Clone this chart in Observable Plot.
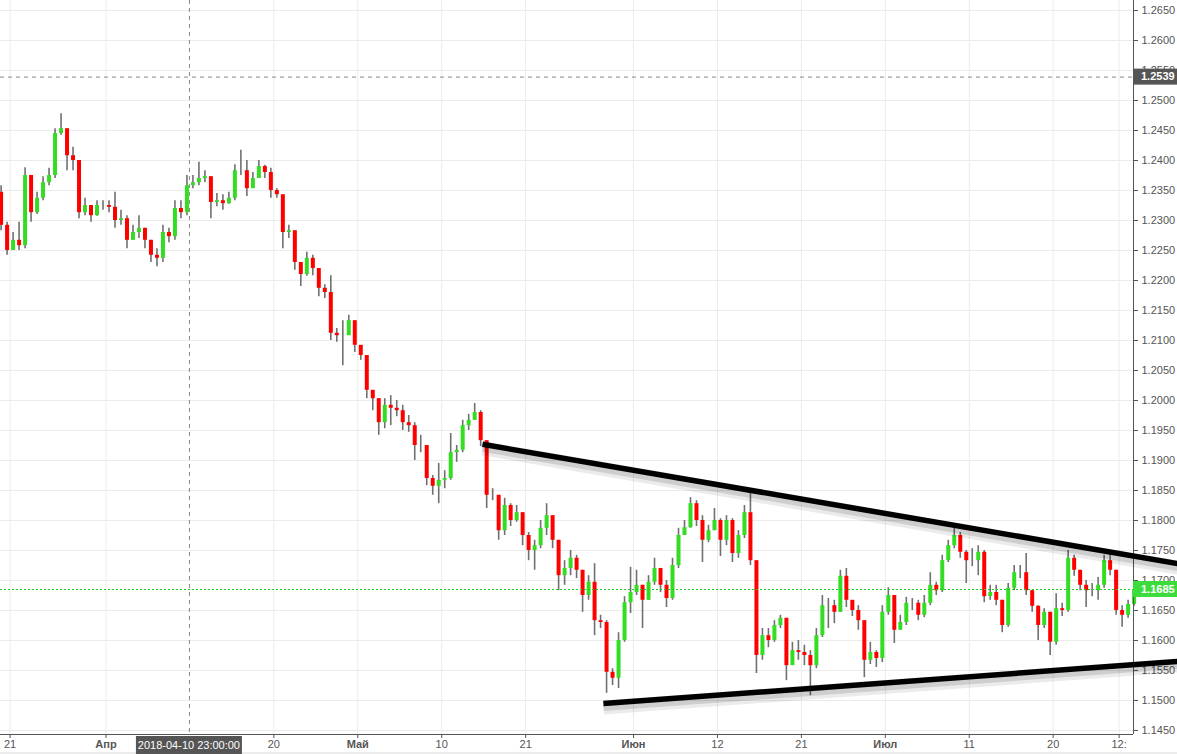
<!DOCTYPE html>
<html><head><meta charset="utf-8">
<script src="https://cdn.jsdelivr.net/npm/d3@7"></script>
<script src="https://cdn.jsdelivr.net/npm/@observablehq/plot@0.6"></script>
<style>
body{margin:0;background:#fff;}
#chart svg{display:block;}
</style>
</head><body><div id="chart"></div>
<script>
// Time axis: trading-day index (0 = 2018-04-02), one bar every 12 trading hours
const startDay = -8.75;
const barStep = 0.5;
const firstOpen = 1.2347;
const close = [1.2292,1.2250,1.2267,1.2258,1.2375,1.2313,1.2337,1.2363,1.2375,1.2445,
1.2453,1.2408,1.2400,1.2313,1.2325,1.2308,1.2325,1.2325,1.2322,1.2300,
1.2303,1.2267,1.2280,1.2287,1.2267,1.2242,1.2237,1.2280,1.2273,1.2320,
1.2313,1.2358,1.2363,1.2370,1.2373,1.2330,1.2333,1.2328,1.2337,1.2383,
1.2383,1.2353,1.2370,1.2390,1.2380,1.2350,1.2343,1.2280,1.2283,1.2230,
1.2210,1.2237,1.2220,1.2187,1.2180,1.2112,1.2108,1.2108,1.2133,1.2092,
1.2075,1.2017,1.2003,1.1963,1.1992,1.1987,1.1983,1.1963,1.1958,1.1925,
1.1925,1.1870,1.1857,1.1867,1.1870,1.1913,1.1917,1.1958,1.1967,1.1980,
1.1933,1.1842,1.1842,1.1783,1.1825,1.1800,1.1813,1.1775,1.1750,1.1758,
1.1787,1.1808,1.1767,1.1708,1.1720,1.1737,1.1717,1.1675,1.1697,1.1633,
1.1630,1.1547,1.1537,1.1600,1.1663,1.1680,1.1692,1.1667,1.1697,1.1720,
1.1692,1.1670,1.1725,1.1775,1.1788,1.1828,1.1800,1.1767,1.1783,1.1800,
1.1767,1.1800,1.1745,1.1775,1.1813,1.1733,1.1575,1.1608,1.1600,1.1625,
1.1637,1.1558,1.1583,1.1580,1.1575,1.1558,1.1608,1.1658,1.1658,1.1647,
1.1707,1.1667,1.1650,1.1633,1.1567,1.1580,1.1570,1.1647,1.1675,1.1617,
1.1630,1.1662,1.1662,1.1642,1.1662,1.1692,1.1683,1.1733,1.1758,1.1775,
1.1747,1.1733,1.1733,1.1747,1.1673,1.1680,1.1667,1.1625,1.1687,1.1713,
1.1713,1.1683,1.1657,1.1625,1.1647,1.1597,1.1653,1.1650,1.1737,1.1717,
1.1692,1.1683,1.1683,1.1692,1.1733,1.1717,1.1650,1.1642,1.1660,1.1685];
const high = [1.2358,1.2297,1.2280,1.2297,1.2388,1.2375,1.2347,1.2373,1.2387,1.2453,
1.2478,1.2453,1.2422,1.2400,1.2337,1.2325,1.2333,1.2333,1.2333,1.2347,
1.2317,1.2308,1.2292,1.2308,1.2287,1.2267,1.2253,1.2292,1.2287,1.2333,
1.2333,1.2375,1.2375,1.2397,1.2383,1.2373,1.2345,1.2343,1.2347,1.2393,
1.2417,1.2400,1.2380,1.2400,1.2392,1.2387,1.2353,1.2340,1.2292,1.2280,
1.2230,1.2247,1.2242,1.2217,1.2193,1.2208,1.2120,1.2133,1.2142,1.2133,
1.2087,1.2075,1.2013,1.2003,1.2003,1.2008,1.2000,1.1992,1.1975,1.1963,
1.1942,1.1925,1.1875,1.1895,1.1883,1.1945,1.1925,1.1967,1.1977,1.1995,
1.1983,1.1933,1.1853,1.1842,1.1837,1.1828,1.1825,1.1813,1.1780,1.1767,
1.1800,1.1828,1.1808,1.1767,1.1733,1.1750,1.1742,1.1717,1.1708,1.1728,
1.1642,1.1633,1.1553,1.1613,1.1673,1.1722,1.1717,1.1692,1.1708,1.1737,
1.1720,1.1700,1.1737,1.1787,1.1800,1.1838,1.1833,1.1808,1.1792,1.1820,
1.1803,1.1808,1.1803,1.1783,1.1825,1.1847,1.1733,1.1620,1.1620,1.1633,
1.1642,1.1637,1.1597,1.1600,1.1592,1.1583,1.1620,1.1675,1.1670,1.1667,
1.1717,1.1720,1.1662,1.1658,1.1633,1.1597,1.1583,1.1658,1.1688,1.1675,
1.1642,1.1672,1.1670,1.1667,1.1675,1.1713,1.1697,1.1742,1.1767,1.1788,
1.1780,1.1750,1.1753,1.1758,1.1750,1.1692,1.1692,1.1667,1.1695,1.1725,
1.1725,1.1745,1.1683,1.1658,1.1653,1.1647,1.1678,1.1662,1.1750,1.1742,
1.1717,1.1700,1.1695,1.1705,1.1742,1.1745,1.1717,1.1658,1.1667,1.1690];
const low = [1.2283,1.2242,1.2253,1.2250,1.2253,1.2297,1.2310,1.2333,1.2358,1.2370,
1.2442,1.2383,1.2383,1.2303,1.2308,1.2297,1.2307,1.2317,1.2313,1.2287,
1.2292,1.2253,1.2267,1.2270,1.2253,1.2230,1.2223,1.2230,1.2263,1.2267,
1.2303,1.2308,1.2353,1.2358,1.2363,1.2303,1.2323,1.2317,1.2327,1.2333,
1.2375,1.2340,1.2358,1.2373,1.2370,1.2337,1.2337,1.2253,1.2270,1.2217,
1.2190,1.2207,1.2208,1.2173,1.2170,1.2100,1.2097,1.2058,1.2120,1.2080,
1.2067,1.2003,1.1983,1.1942,1.1953,1.1958,1.1973,1.1950,1.1947,1.1900,
1.1913,1.1858,1.1842,1.1828,1.1853,1.1867,1.1897,1.1913,1.1950,1.1967,
1.1923,1.1820,1.1833,1.1767,1.1775,1.1790,1.1797,1.1758,1.1733,1.1717,
1.1753,1.1775,1.1753,1.1683,1.1692,1.1708,1.1703,1.1647,1.1667,1.1608,
1.1620,1.1512,1.1525,1.1520,1.1597,1.1645,1.1675,1.1620,1.1667,1.1692,
1.1680,1.1655,1.1667,1.1720,1.1775,1.1787,1.1790,1.1730,1.1763,1.1783,
1.1740,1.1758,1.1730,1.1737,1.1770,1.1725,1.1545,1.1567,1.1588,1.1597,
1.1620,1.1533,1.1563,1.1567,1.1558,1.1508,1.1553,1.1605,1.1620,1.1628,
1.1647,1.1655,1.1640,1.1617,1.1538,1.1560,1.1555,1.1563,1.1642,1.1595,
1.1617,1.1625,1.1650,1.1633,1.1638,1.1658,1.1675,1.1680,1.1730,1.1753,
1.1737,1.1695,1.1723,1.1708,1.1663,1.1667,1.1658,1.1613,1.1622,1.1683,
1.1703,1.1675,1.1647,1.1600,1.1620,1.1575,1.1592,1.1640,1.1647,1.1707,
1.1683,1.1655,1.1673,1.1667,1.1687,1.1708,1.1642,1.1622,1.1637,1.1657];

const tickDays = [-8, 0, 14, 21, 28, 35, 44, 51, 58, 65, 72, 79, 84.5];
const tickLabels = ["21","Апр","20","Май","10","21","Июн","12","21","Июл","11","20","12:"];
const boldTicks = ["Апр","Май","Июн","Июл"];
const priceTicks = [1.1450,1.1500,1.1550,1.1600,1.1650,1.1700,1.1750,1.1800,1.1850,1.1900,
1.1950,1.2000,1.2050,1.2100,1.2150,1.2200,1.2250,1.2300,1.2350,1.2400,1.2450,1.2500,1.2550,1.2600,1.2650];

const markedPrice = 1.2539;
const lastPrice = 1.1685;
const crosshairDay = 6.958;
const crosshairLabel = "2018-04-10 23:00:00";

const trendNames = ["upper","lower"];
const trendDays = [[31.40, 89.40],[41.49, 89.40]];
const trendPrices = [[1.1927, 1.1728],[1.1495, 1.1565]];

const xDomain = [-8.8, 85.7];
const yDomain = [1.14433, 1.26667];

const bars = close.map((c, i) => ({
  day: startDay + i * barStep,
  open: i ? close[i - 1] : firstOpen,
  close: c, high: high[i], low: low[i]
}));
const upBars = bars.filter(d => d.close >= d.open);
const downBars = bars.filter(d => d.close < d.open);
const trendRows = trendNames.flatMap((n, k) => trendDays[k].map((d, j) => ({name: n, day: d, price: trendPrices[k][j]})));

const plot = Plot.plot({
  width: 1177, height: 754,
  marginLeft: 0, marginRight: 44, marginTop: 0, marginBottom: 20,
  style: {fontFamily: "'Liberation Sans', Arial, sans-serif", fontSize: "11px", color: "#555", background: "#fff"},
  x: {domain: xDomain, axis: "bottom", ticks: tickDays, tickFormat: d => tickLabels[tickDays.indexOf(d)], tickSize: 4, tickPadding: 2, label: null},
  y: {domain: yDomain, axis: "right", ticks: priceTicks, tickFormat: d => d.toFixed(4), tickSize: 4, tickPadding: 4, label: null},
  marks: [
    Plot.ruleY(priceTicks, {stroke: "#ebebeb"}),
    Plot.ruleX(tickDays, {stroke: "#ebebeb"}),
    Plot.ruleY([markedPrice], {stroke: "#8a8a8a", strokeDasharray: "4,4"}),
    Plot.ruleX([crosshairDay], {stroke: "#8a8a8a", strokeDasharray: "4,4"}),
    Plot.ruleX(bars, {x: "day", y1: "low", y2: "high", stroke: "#707070", strokeWidth: 1.6}),
    Plot.ruleX(upBars, {x: "day", y1: "open", y2: "close", stroke: "#33dd22", strokeWidth: 4}),
    Plot.ruleX(downBars, {x: "day", y1: "open", y2: "close", stroke: "#ff0000", strokeWidth: 4}),
    Plot.ruleY([lastPrice], {stroke: "#22cc22", strokeDasharray: "2,2"}),
    Plot.ruleX([xDomain[1]], {stroke: "#555"}),
    Plot.ruleY([yDomain[0]], {stroke: "#555"}),
    // soft shadow under the trend lines
    Plot.line(trendRows, {x: "day", y: "price", z: "name", stroke: "#000", strokeOpacity: 0.08, strokeWidth: 14, dy: 4, strokeLinecap: "butt"}),
    Plot.line(trendRows, {x: "day", y: "price", z: "name", stroke: "#000", strokeOpacity: 0.12, strokeWidth: 9, dy: 3, strokeLinecap: "butt"}),
    Plot.line(trendRows, {x: "day", y: "price", z: "name", stroke: "#000", strokeWidth: 5.5, strokeLinecap: "butt"})
  ]
});
document.getElementById("chart").append(plot);

const svg = d3.select(plot);
const xs = plot.scale("x"), ys = plot.scale("y");
svg.selectAll("text").filter(function(){ return boldTicks.includes(this.textContent); }).attr("font-weight", "bold");

// cover axis labels that spill below the plot frame on the right
const x1 = xs.apply(xDomain[1]), yb = ys.apply(yDomain[0]);
svg.append("rect").attr("x", x1 + 1).attr("y", yb + 1).attr("width", 1177 - x1).attr("height", 754 - yb).attr("fill", "#fff");
svg.append("rect").attr("x", 0).attr("y", 752).attr("width", 1177).attr("height", 2).attr("fill", "#ececec");

function axisBox(price, fill) {
  const y = ys.apply(price);
  svg.append("rect").attr("x", x1).attr("y", y - 8).attr("width", 1177 - x1).attr("height", 16).attr("fill", fill);
  svg.append("text").attr("x", x1 + 8).attr("y", y).attr("dy", "0.35em").attr("fill", "#fff")
    .attr("text-anchor", "start").attr("font-size", 11).attr("font-weight", "bold").text(price.toFixed(4));
}
axisBox(markedPrice, "#555");
axisBox(lastPrice, "#3ddc3d");

const cx = xs.apply(crosshairDay);
svg.append("rect").attr("x", cx - 53).attr("y", yb + 2).attr("width", 106).attr("height", 754 - yb - 2).attr("fill", "#555");
svg.append("text").attr("x", cx).attr("y", yb + 11).attr("dy", "0.35em").attr("text-anchor", "middle")
  .attr("fill", "#fff").attr("font-size", 11).text(crosshairLabel);
</script>
</body></html>
